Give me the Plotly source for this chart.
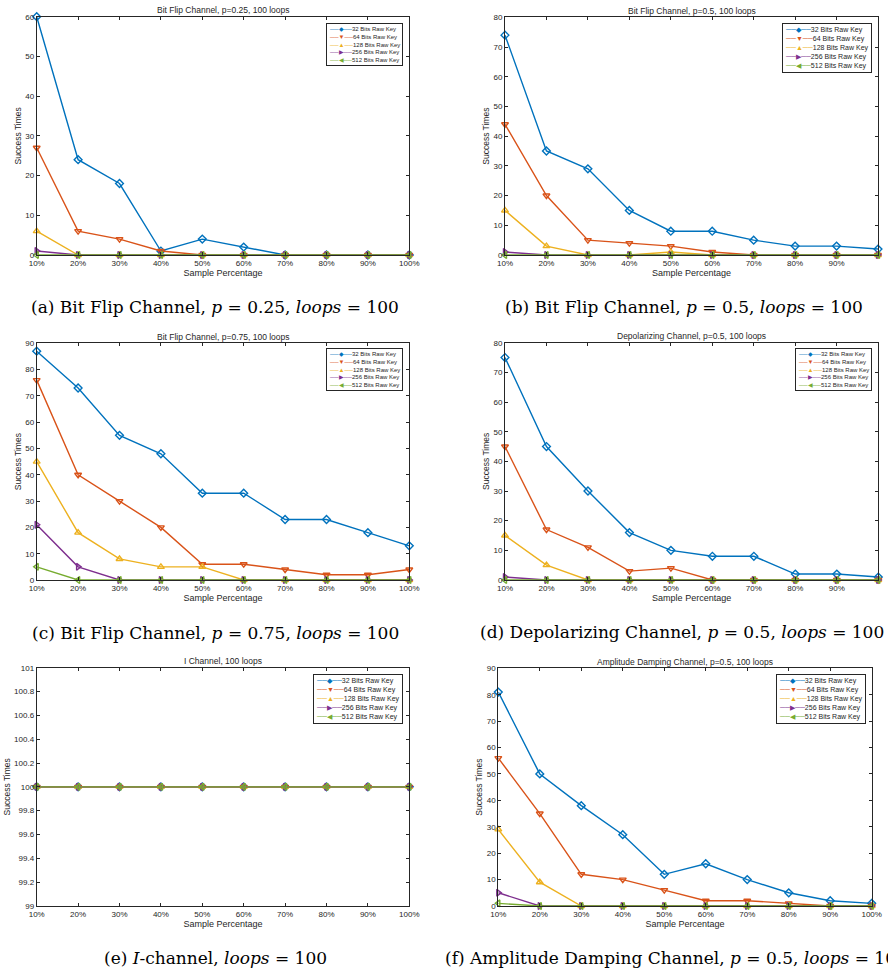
import plotly.graph_objects as go

W, H = 888, 970

# ---------------- data ----------------
sample_pct = [10, 20, 30, 40, 50, 60, 70, 80, 90, 100]
x_tick_labels = ["10%", "20%", "30%", "40%", "50%", "60%", "70%", "80%", "90%", "100%"]
series_names = ["32 Bits Raw Key", "64 Bits Raw Key", "128 Bits Raw Key",
                "256 Bits Raw Key", "512 Bits Raw Key"]

# (a) Bit Flip Channel, p=0.25
bf025_32 = [60, 24, 18, 1, 4, 2, 0, 0, 0, 0]
bf025_64 = [27, 6, 4, 1, 0, 0, 0, 0, 0, 0]
bf025_128 = [6, 0, 0, 0, 0, 0, 0, 0, 0, 0]
bf025_256 = [1, 0, 0, 0, 0, 0, 0, 0, 0, 0]
bf025_512 = [0, 0, 0, 0, 0, 0, 0, 0, 0, 0]

# (b) Bit Flip Channel, p=0.5
bf05_32 = [74, 35, 29, 15, 8, 8, 5, 3, 3, 2]
bf05_64 = [44, 20, 5, 4, 3, 1, 0, 0, 0, 0]
bf05_128 = [15, 3, 0, 0, 1, 0, 0, 0, 0, 0]
bf05_256 = [1, 0, 0, 0, 0, 0, 0, 0, 0, 0]
bf05_512 = [0, 0, 0, 0, 0, 0, 0, 0, 0, 0]

# (c) Bit Flip Channel, p=0.75
bf075_32 = [87, 73, 55, 48, 33, 33, 23, 23, 18, 13]
bf075_64 = [76, 40, 30, 20, 6, 6, 4, 2, 2, 4]
bf075_128 = [45, 18, 8, 5, 5, 0, 0, 0, 0, 0]
bf075_256 = [21, 5, 0, 0, 0, 0, 0, 0, 0, 0]
bf075_512 = [5, 0, 0, 0, 0, 0, 0, 0, 0, 0]

# (d) Depolarizing Channel, p=0.5
dp05_32 = [75, 45, 30, 16, 10, 8, 8, 2, 2, 1]
dp05_64 = [45, 17, 11, 3, 4, 0, 0, 0, 0, 0]
dp05_128 = [15, 5, 0, 0, 0, 0, 0, 0, 0, 0]
dp05_256 = [1, 0, 0, 0, 0, 0, 0, 0, 0, 0]
dp05_512 = [0, 0, 0, 0, 0, 0, 0, 0, 0, 0]

# (e) I Channel
ic_32 = [100, 100, 100, 100, 100, 100, 100, 100, 100, 100]
ic_64 = [100, 100, 100, 100, 100, 100, 100, 100, 100, 100]
ic_128 = [100, 100, 100, 100, 100, 100, 100, 100, 100, 100]
ic_256 = [100, 100, 100, 100, 100, 100, 100, 100, 100, 100]
ic_512 = [100, 100, 100, 100, 100, 100, 100, 100, 100, 100]

# (f) Amplitude Damping Channel, p=0.5
ad05_32 = [81, 50, 38, 27, 12, 16, 10, 5, 2, 1]
ad05_64 = [56, 35, 12, 10, 6, 2, 2, 1, 0, 0]
ad05_128 = [29, 9, 0, 0, 0, 0, 0, 0, 0, 0]
ad05_256 = [5, 0, 0, 0, 0, 0, 0, 0, 0, 0]
ad05_512 = [1, 0, 0, 0, 0, 0, 0, 0, 0, 0]

plot_titles = ["Bit Flip Channel, p=0.25, 100 loops",
               "Bit Flip Channel, p=0.5, 100 loops",
               "Bit Flip Channel, p=0.75, 100 loops",
               "Depolarizing Channel, p=0.5, 100 loops",
               "I Channel, 100 loops",
               "Amplitude Damping Channel, p=0.5, 100 loops"]
captions = ["(a) Bit Flip Channel, <i>p</i> = 0.25, <i>loops</i> = 100",
            "(b) Bit Flip Channel, <i>p</i> = 0.5, <i>loops</i> = 100",
            "(c) Bit Flip Channel, <i>p</i> = 0.75, <i>loops</i> = 100",
            "(d) Depolarizing Channel, <i>p</i> = 0.5, <i>loops</i> = 100",
            "(e) <i>I</i>-channel, <i>loops</i> = 100",
            "(f) Amplitude Damping Channel, <i>p</i> = 0.5, <i>loops</i> = 100"]
y_ranges = [[0, 60], [0, 80], [0, 90], [0, 80], [99, 101], [0, 90]]
y_dticks = [10, 10, 10, 10, 0.2, 10]

panel_series = [
    [bf025_32, bf025_64, bf025_128, bf025_256, bf025_512],
    [bf05_32, bf05_64, bf05_128, bf05_256, bf05_512],
    [bf075_32, bf075_64, bf075_128, bf075_256, bf075_512],
    [dp05_32, dp05_64, dp05_128, dp05_256, dp05_512],
    [ic_32, ic_64, ic_128, ic_256, ic_512],
    [ad05_32, ad05_64, ad05_128, ad05_256, ad05_512],
]

# ---------------- styles / layout ----------------
colors = ["#0072BD", "#D95319", "#EDB120", "#7E2F8E", "#77AC30"]
symbols = ["diamond-open", "triangle-down-open", "triangle-up-open",
           "triangle-right-open", "triangle-left-open"]
legend_glyphs = ["\u25c6", "\u25bc", "\u25b2", "\u25b6", "\u25c0"]

# plot area boxes in pixels: (left, top, right, bottom)
boxes = [(36.7, 16.7, 409.3, 255.0),
         (505.0, 17.3, 878.0, 255.0),
         (36.7, 343.3, 409.3, 580.0),
         (505.0, 342.7, 878.3, 580.0),
         (36.7, 667.7, 409.3, 906.0),
         (498.3, 668.3, 871.7, 906.0)]
# legend top-right corners in pixels and font sizes
legend_pos = [(403, 23, 6), (872, 23, 7), (403, 348, 6),
              (872, 348, 6), (403, 674, 7), (866, 674, 7)]
# caption anchor (x, y, xanchor)
caption_pos = [(215, 307, "center"), (684, 307, "center"), (215, 633, "center"),
               (682, 632, "center"), (215, 958, "center"), (443, 958, "left")]

AXIS_FONT = "Liberation Sans, Arial, sans-serif"
CAPTION_FONT = "DejaVu Serif, serif"


def px_x(v):
    return v / W


def px_y(v):
    return 1 - v / H


fig = go.Figure()
layout = dict(width=W, height=H, margin=dict(l=0, r=0, t=0, b=0),
              paper_bgcolor="white", plot_bgcolor="white", showlegend=False,
              font=dict(family=AXIS_FONT, color="#262626"))
annotations = []

for i in range(6):
    k = "" if i == 0 else str(i + 1)
    for j in range(5):
        fig.add_trace(go.Scatter(
            x=sample_pct, y=panel_series[i][j], name=series_names[j],
            mode="lines+markers", xaxis="x" + k, yaxis="y" + k,
            line=dict(color=colors[j], width=1.4),
            marker=dict(symbol=symbols[j], size=6, color=colors[j],
                        line=dict(width=1.4, color=colors[j])),
            cliponaxis=False, showlegend=False))
    l, t, r, b = boxes[i]
    layout["xaxis" + k] = dict(
        domain=[px_x(l), px_x(r)], anchor="y" + k, range=[10, 100],
        tickvals=sample_pct, ticktext=x_tick_labels, automargin=False,
        ticks="inside", ticklen=3, tickcolor="#262626", mirror="ticks",
        showline=True, linecolor="#262626", linewidth=1, showgrid=False,
        zeroline=False, tickfont=dict(size=8, color="#262626"),
        title=dict(text="Sample Percentage", font=dict(size=9, color="#262626"),
                   standoff=2))
    layout["yaxis" + k] = dict(
        domain=[px_y(b), px_y(t)], anchor="x" + k, range=y_ranges[i],
        dtick=y_dticks[i], tick0=y_ranges[i][0], automargin=False,
        ticks="inside", ticklen=3, tickcolor="#262626", mirror="ticks",
        showline=True, linecolor="#262626", linewidth=1, showgrid=False,
        zeroline=False, tickfont=dict(size=8, color="#262626"),
        title=dict(text="Success Times", font=dict(size=8.5, color="#262626"),
                   standoff=2))
    # compact MATLAB-style legend box
    lx, ly, lfs = legend_pos[i]
    rows = []
    for j in range(5):
        rows.append('<span style="color:%s">\u2500\u2500%s\u2500\u2500</span>%s'
                    % (colors[j], legend_glyphs[j], series_names[j]))
    annotations.append(dict(
        text="<br>".join(rows), xref="paper", yref="paper",
        x=px_x(lx), y=px_y(ly), xanchor="right", yanchor="top", align="left",
        showarrow=False, bgcolor="white", bordercolor="#262626", borderwidth=1,
        borderpad=2, font=dict(size=lfs, color="#262626")))
    annotations.append(dict(
        text=plot_titles[i], xref="paper", yref="paper",
        x=px_x((l + r) / 2), y=px_y(t + 0.5), xanchor="center", yanchor="bottom",
        showarrow=False, font=dict(size=8.5, color="#262626")))
    cx, cy, cxa = caption_pos[i]
    annotations.append(dict(
        text=captions[i], xref="paper", yref="paper",
        x=px_x(cx), y=px_y(cy), xanchor=cxa, yanchor="middle",
        showarrow=False,
        font=dict(family=CAPTION_FONT, size=17, color="black")))

layout["annotations"] = annotations
fig.update_layout(**layout)
fig.write_html("out.html")
